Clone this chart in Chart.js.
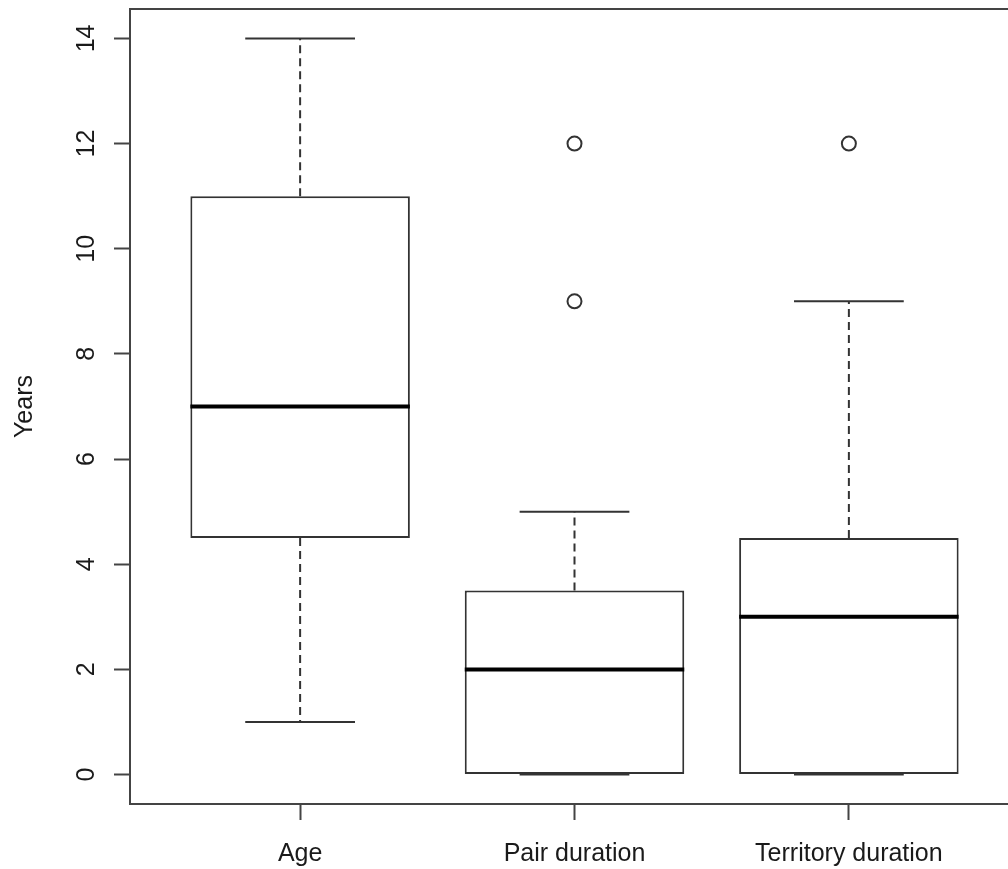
<!DOCTYPE html>
<html>
<head>
<meta charset="utf-8">
<title>Years boxplot</title>
<script src="https://cdn.jsdelivr.net/npm/chart.js@4.4.0/dist/chart.umd.min.js"></script>
<style>
  html, body { margin: 0; padding: 0; background: #fff; overflow: hidden; }
  canvas { display: block; }
</style>
</head>
<body>
<canvas id="myChart" width="1040" height="869"></canvas>
<script>
// box summary values
const categories = ['Age', 'Pair duration', 'Territory duration'];
const positions = [1, 2, 3];
const whiskerLow = [1, 0, 0];
const q1 = [4.5, 0, 0];
const median = [7, 2, 3];
const q3 = [11, 3.5, 4.5];
const whiskerHigh = [14, 5, 9];
const outliers = [[], [9, 12], [12]];
const yTicks = [0, 2, 4, 6, 8, 10, 12, 14];

Chart.defaults.font.family = '"Liberation Sans", Arial, sans-serif';
Chart.defaults.font.size = 25;
Chart.defaults.color = '#1a1a1a';

const lineColor = '#333';

// whiskers, caps and medians drawn on top of the boxes
const boxExtras = {
    id: 'boxExtras',
    afterDatasetsDraw(chart) {
        const ctx = chart.ctx;
        const xs = chart.scales.x;
        const ys = chart.scales.y;
        ctx.save();
        positions.forEach((p, i) => {
            const cx = xs.getPixelForValue(p);
            const capL = xs.getPixelForValue(p - 0.2);
            const capR = xs.getPixelForValue(p + 0.2);
            const boxL = xs.getPixelForValue(p - 0.4);
            const boxR = xs.getPixelForValue(p + 0.4);

            ctx.strokeStyle = lineColor;
            ctx.lineWidth = 2;
            // dashed whiskers
            ctx.setLineDash([8, 5]);
            ctx.beginPath();
            ctx.moveTo(cx, ys.getPixelForValue(q3[i]));
            ctx.lineTo(cx, ys.getPixelForValue(whiskerHigh[i]));
            ctx.moveTo(cx, ys.getPixelForValue(q1[i]));
            ctx.lineTo(cx, ys.getPixelForValue(whiskerLow[i]));
            ctx.stroke();
            // caps
            ctx.setLineDash([]);
            ctx.lineWidth = 2;
            ctx.beginPath();
            ctx.moveTo(capL, ys.getPixelForValue(whiskerHigh[i]));
            ctx.lineTo(capR, ys.getPixelForValue(whiskerHigh[i]));
            ctx.moveTo(capL, ys.getPixelForValue(whiskerLow[i]));
            ctx.lineTo(capR, ys.getPixelForValue(whiskerLow[i]));
            ctx.stroke();
            // median
            ctx.strokeStyle = '#000';
            ctx.lineWidth = 4;
            ctx.beginPath();
            ctx.moveTo(boxL, ys.getPixelForValue(median[i]));
            ctx.lineTo(boxR, ys.getPixelForValue(median[i]));
            ctx.stroke();
        });
        // plot frame
        const a = chart.chartArea;
        ctx.strokeStyle = '#444';
        ctx.lineWidth = 2;
        ctx.strokeRect(a.left, a.top, a.right - a.left, a.bottom - a.top);
        ctx.restore();
    }
};

const outlierPoints = [];
outliers.forEach((list, i) => list.forEach(v => outlierPoints.push({ x: positions[i], y: v })));

const ctx = document.getElementById('myChart').getContext('2d');
const myChart = new Chart(ctx, {
    type: 'bar',
    data: {
        datasets: [{
            label: 'box',
            data: positions.map((p, i) => ({ x: p, y: [q1[i], q3[i]] })),
            backgroundColor: '#fff',
            borderColor: lineColor,
            borderWidth: 2,
            borderSkipped: false,
            categoryPercentage: 1,
            barPercentage: 0.8
        }, {
            type: 'scatter',
            label: 'outliers',
            data: outlierPoints,
            pointStyle: 'circle',
            pointRadius: 7,
            pointBorderWidth: 2,
            pointBackgroundColor: 'rgba(0,0,0,0)',
            pointBorderColor: lineColor
        }]
    },
    options: {
        responsive: false,
        animation: false,
        layout: { padding: { top: 7, right: 21, left: 0, bottom: 0 } },
        plugins: {
            legend: { display: false },
            tooltip: { enabled: false }
        },
        scales: {
            x: {
                type: 'linear',
                min: 0.38,
                max: 3.62,
                offset: false,
                afterBuildTicks: scale => { scale.ticks = positions.map(v => ({ value: v })); },
                afterFit: scale => {
                    scale.height = 65;
                    scale.paddingLeft = 0;
                    scale.paddingRight = 0;
                },
                border: { display: false },
                grid: {
                    offset: false,
                    drawOnChartArea: false,
                    drawTicks: true,
                    tickLength: 16,
                    tickWidth: 2,
                    tickColor: '#444'
                },
                ticks: {
                    autoSkip: false,
                    maxRotation: 0,
                    padding: 19,
                    callback: (v, idx) => categories[idx]
                }
            },
            y: {
                type: 'linear',
                min: -0.56,
                max: 14.56,
                afterBuildTicks: scale => { scale.ticks = yTicks.map(v => ({ value: v })); },
                afterFit: scale => {
                    scale.width = 130;
                    scale.paddingTop = 0;
                    scale.paddingBottom = 0;
                },
                border: { display: false },
                grid: {
                    drawOnChartArea: false,
                    drawTicks: true,
                    tickLength: 16,
                    tickWidth: 2,
                    tickColor: '#444'
                },
                ticks: {
                    minRotation: 90,
                    maxRotation: 90,
                    crossAlign: 'center',
                    padding: 13
                },
                title: {
                    display: true,
                    text: 'Years',
                    padding: { top: 10, bottom: 0 }
                }
            }
        }
    },
    plugins: [boxExtras]
});
</script>
</body>
</html>
